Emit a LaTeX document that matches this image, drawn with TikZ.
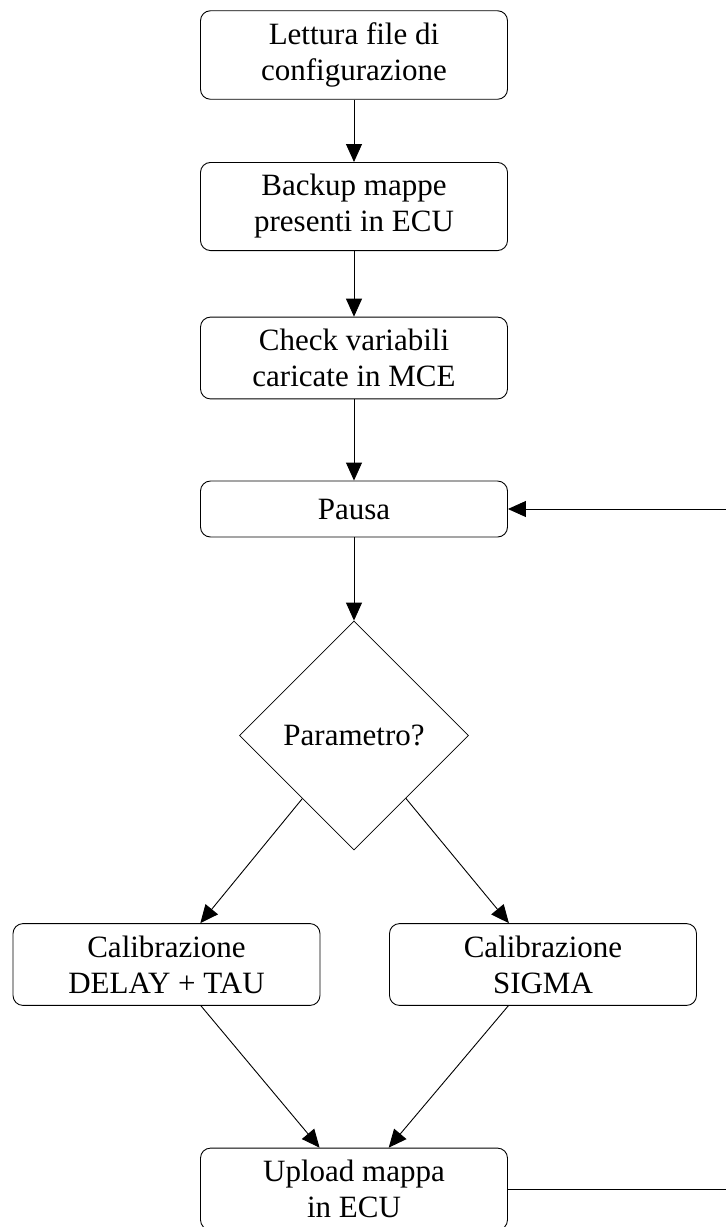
\documentclass[tikz,border=0pt]{standalone}
\usepackage{fontspec}
\setmainfont{Liberation Serif}
\usetikzlibrary{shapes.geometric,arrows.meta}
\begin{document}
\begin{tikzpicture}[x=1pt,y=-1pt,
  every node/.style={font=\fontsize{31}{36}\selectfont},
  stepbox/.style={draw, rounded corners=10pt, minimum width=307pt,
    minimum height=56pt, inner ysep=12pt, align=center, line width=0.9pt},
  choice/.style={draw, diamond, minimum width=229pt, minimum height=229pt,
    inner sep=0pt, line width=0.8pt},
  flow/.style={-{Triangle[length=18pt,width=16pt]}, line width=0.9pt}]
  \useasboundingbox (0,0) rectangle (726,1227);

  \node[stepbox] (cfg)   at (354,55)    {Lettura file di\\configurazione};
  \node[stepbox] (bkp)   at (354,206.5) {Backup mappe\\presenti in ECU};
  \node[stepbox] (chk)   at (354,358)   {Check variabili\\caricate in MCE};
  \node[stepbox] (pausa) at (354,509)   {Pausa};
  \node[choice]  (par)   at (354,735.5) {Parametro?};
  \node[stepbox] (cdt)   at (166.5,964.5) {Calibrazione\\DELAY + TAU};
  \node[stepbox] (csg)   at (543,964.5)   {Calibrazione\\SIGMA};
  \node[stepbox] (upl)   at (354,1189)  {Upload mappa\\in ECU};

  \coordinate (lb) at (760,1189);
  \coordinate (lt) at (760,509);

  \draw[flow] (cfg) -- (bkp);
  \draw[flow] (bkp) -- (chk);
  \draw[flow] (chk) -- (pausa);
  \draw[flow] (pausa) -- (par);
  \draw[flow] (par) -- (cdt);
  \draw[flow] (par) -- (csg);
  \draw[flow] (cdt) -- (upl);
  \draw[flow] (csg) -- (upl);
  \draw[flow] (upl.east) -- (lb) -- (lt) -- (pausa.east);
\end{tikzpicture}
\end{document}
